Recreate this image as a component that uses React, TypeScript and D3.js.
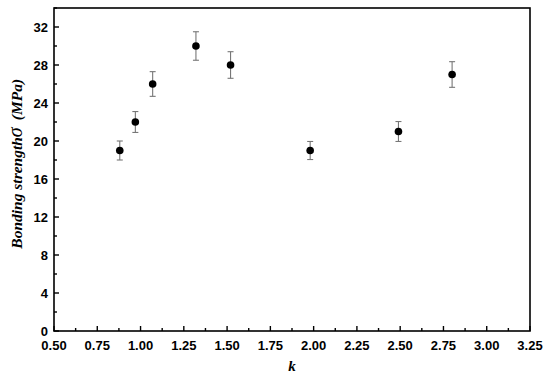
import React, { useEffect, useRef } from 'react';
import * as d3 from 'd3';

const kValues = [0.88, 0.97, 1.07, 1.32, 1.52, 1.98, 2.49, 2.8];
const strength = [19, 22, 26, 30, 28, 19, 21, 27];
const errors = [1.0, 1.1, 1.3, 1.5, 1.4, 0.95, 1.05, 1.35];
const xTicks = [0.5, 0.75, 1.0, 1.25, 1.5, 1.75, 2.0, 2.25, 2.5, 2.75, 3.0, 3.25];
const yTicks = [0, 4, 8, 12, 16, 20, 24, 28, 32];

const width = 550;
const height = 380;
const margin = { top: 8, right: 20, bottom: 49, left: 54 };

const App = () => {
  const ref = useRef<SVGSVGElement>(null);

  useEffect(() => {
    const svg = d3.select(ref.current);
    svg.selectAll('*').remove();

    const x = d3.scaleLinear().domain([0.5, 3.25]).range([margin.left, width - margin.right]);
    const y = d3.scaleLinear().domain([0, 34]).range([height - margin.bottom, margin.top]);

    const labelFont = '"Liberation Sans", Arial, sans-serif';
    const titleFont = '"Liberation Serif", "Times New Roman", serif';

    // frame
    svg
      .append('rect')
      .attr('x', x(0.5))
      .attr('y', y(34))
      .attr('width', x(3.25) - x(0.5))
      .attr('height', y(0) - y(34))
      .attr('fill', 'none')
      .attr('stroke', '#000')
      .attr('stroke-width', 1.6);

    // x axis, ticks pointing inward
    const xAxis = svg.append('g').attr('transform', `translate(0,${y(0)})`);
    xAxis
      .selectAll('.major')
      .data(xTicks)
      .enter()
      .append('line')
      .attr('x1', (d) => x(d))
      .attr('x2', (d) => x(d))
      .attr('y1', 0)
      .attr('y2', -5)
      .attr('stroke', '#000')
      .attr('stroke-width', 1.4);
    xAxis
      .selectAll('.minor')
      .data(xTicks.slice(0, -1).map((d) => d + 0.125))
      .enter()
      .append('line')
      .attr('x1', (d) => x(d))
      .attr('x2', (d) => x(d))
      .attr('y1', 0)
      .attr('y2', -3)
      .attr('stroke', '#000')
      .attr('stroke-width', 1.4);
    xAxis
      .selectAll('text')
      .data(xTicks)
      .enter()
      .append('text')
      .attr('x', (d) => x(d))
      .attr('y', 19)
      .attr('text-anchor', 'middle')
      .style('font-family', labelFont)
      .style('font-weight', 'bold')
      .style('font-size', '13px')
      .text((d) => d.toFixed(2));

    // y axis
    const yAxis = svg.append('g').attr('transform', `translate(${x(0.5)},0)`);
    yAxis
      .selectAll('.major')
      .data(yTicks)
      .enter()
      .append('line')
      .attr('x1', 0)
      .attr('x2', 5)
      .attr('y1', (d) => y(d))
      .attr('y2', (d) => y(d))
      .attr('stroke', '#000')
      .attr('stroke-width', 1.4);
    yAxis
      .selectAll('.minor')
      .data(yTicks.map((d) => d + 2))
      .enter()
      .append('line')
      .attr('x1', 0)
      .attr('x2', 3)
      .attr('y1', (d) => y(d))
      .attr('y2', (d) => y(d))
      .attr('stroke', '#000')
      .attr('stroke-width', 1.4);
    yAxis
      .selectAll('text')
      .data(yTicks)
      .enter()
      .append('text')
      .attr('x', -6)
      .attr('y', (d) => y(d))
      .attr('dy', '0.35em')
      .attr('text-anchor', 'end')
      .style('font-family', labelFont)
      .style('font-weight', 'bold')
      .style('font-size', '13px')
      .text((d) => d);

    // axis titles
    svg
      .append('text')
      .attr('x', x(1.875))
      .attr('y', 371)
      .attr('text-anchor', 'middle')
      .style('font-family', titleFont)
      .style('font-weight', 'bold')
      .style('font-style', 'italic')
      .style('font-size', '15px')
      .text('k');

    const yTitle = svg
      .append('text')
      .attr('transform', `translate(22,${y(17.6)}) rotate(-90)`)
      .attr('text-anchor', 'middle')
      .style('font-family', titleFont)
      .style('font-weight', 'bold')
      .style('font-style', 'italic')
      .style('font-size', '15.5px');
    yTitle.append('tspan').text('Bonding strength');
    yTitle.append('tspan').style('font-size', '20px').style('font-weight', 'normal').text('σ');
    yTitle.append('tspan').attr('dx', 7).text('(MPa)');

    // error bars
    const data = kValues.map((k, i) => ({ k, s: strength[i], e: errors[i] }));
    const bars = svg.append('g').attr('stroke', '#777').attr('stroke-width', 1.1);
    bars
      .selectAll('.stem')
      .data(data)
      .enter()
      .append('line')
      .attr('x1', (d) => x(d.k))
      .attr('x2', (d) => x(d.k))
      .attr('y1', (d) => y(d.s + d.e))
      .attr('y2', (d) => y(d.s - d.e));
    [1, -1].forEach((sign) => {
      bars
        .selectAll(`.cap${sign}`)
        .data(data)
        .enter()
        .append('line')
        .attr('x1', (d) => x(d.k) - 3)
        .attr('x2', (d) => x(d.k) + 3)
        .attr('y1', (d) => y(d.s + sign * d.e))
        .attr('y2', (d) => y(d.s + sign * d.e));
    });

    svg
      .append('g')
      .selectAll('circle')
      .data(data)
      .enter()
      .append('circle')
      .attr('cx', (d) => x(d.k))
      .attr('cy', (d) => y(d.s))
      .attr('r', 3.8)
      .attr('fill', '#000');
  }, []);

  return (
    <svg
      ref={ref}
      width={width}
      height={height}
      style={{ position: 'absolute', left: 0, top: 0, background: '#fff' }}
    />
  );
};

export default App;
